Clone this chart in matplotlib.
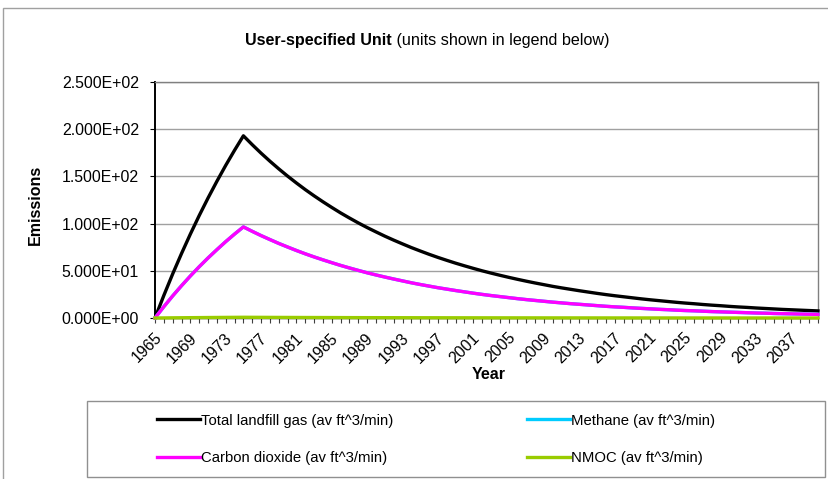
import numpy as np
import matplotlib
matplotlib.use('Agg')
import matplotlib.pyplot as plt
from matplotlib.patches import Rectangle
from matplotlib.ticker import FuncFormatter, MultipleLocator
from matplotlib.transforms import ScaledTranslation

plt.rcParams['font.family'] = ['Liberation Sans', 'DejaVu Sans']

# datos (1965 - 2040)
years = list(range(1965, 2041))

total_lfg = [0, 23.9, 46.7, 68.3, 88.9, 108.5, 127.1, 144.8, 161.7, 177.7, 193.0,
             183.6, 174.6, 166.1, 158.0, 150.3, 143.0, 136.0, 129.4, 123.1, 117.1,
             111.3, 105.9, 100.7, 95.8, 91.2, 86.7, 82.5, 78.5, 74.6, 71.0,
             67.5, 64.2, 61.1, 58.1, 55.3, 52.6, 50.0, 47.6, 45.3, 43.1,
             41.0, 39.0, 37.1, 35.3, 33.5, 31.9, 30.4, 28.9, 27.5, 26.1,
             24.8, 23.6, 22.5, 21.4, 20.3, 19.3, 18.4, 17.5, 16.6, 15.8,
             15.1, 14.3, 13.6, 13.0, 12.3, 11.7, 11.2, 10.6, 10.1, 9.6,
             9.1, 8.7, 8.3, 7.9, 7.5]

methane = [0, 12.0, 23.4, 34.2, 44.5, 54.3, 63.6, 72.4, 80.9, 88.9, 96.5,
           91.8, 87.3, 83.1, 79.0, 75.2, 71.5, 68.0, 64.7, 61.6, 58.6,
           55.7, 53.0, 50.4, 47.9, 45.6, 43.4, 41.3, 39.3, 37.3, 35.5,
           33.8, 32.1, 30.6, 29.1, 27.7, 26.3, 25.0, 23.8, 22.7, 21.6,
           20.5, 19.5, 18.6, 17.7, 16.8, 16.0, 15.2, 14.5, 13.8, 13.1,
           12.4, 11.8, 11.3, 10.7, 10.2, 9.7, 9.2, 8.8, 8.3, 7.9,
           7.6, 7.2, 6.8, 6.5, 6.2, 5.9, 5.6, 5.3, 5.1, 4.8,
           4.6, 4.4, 4.2, 4.0, 3.8]

carbon_dioxide = [0, 12.0, 23.4, 34.2, 44.5, 54.3, 63.6, 72.4, 80.9, 88.9, 96.5,
                  91.8, 87.3, 83.1, 79.0, 75.2, 71.5, 68.0, 64.7, 61.6, 58.6,
                  55.7, 53.0, 50.4, 47.9, 45.6, 43.4, 41.3, 39.3, 37.3, 35.5,
                  33.8, 32.1, 30.6, 29.1, 27.7, 26.3, 25.0, 23.8, 22.7, 21.6,
                  20.5, 19.5, 18.6, 17.7, 16.8, 16.0, 15.2, 14.5, 13.8, 13.1,
                  12.4, 11.8, 11.3, 10.7, 10.2, 9.7, 9.2, 8.8, 8.3, 7.9,
                  7.6, 7.2, 6.8, 6.5, 6.2, 5.9, 5.6, 5.3, 5.1, 4.8,
                  4.6, 4.4, 4.2, 4.0, 3.8]

nmoc = [0, 0.10, 0.19, 0.27, 0.36, 0.43, 0.51, 0.58, 0.65, 0.71, 0.77,
        0.73, 0.70, 0.66, 0.63, 0.60, 0.57, 0.54, 0.52, 0.49, 0.47,
        0.45, 0.42, 0.40, 0.38, 0.36, 0.35, 0.33, 0.31, 0.30, 0.28,
        0.27, 0.26, 0.24, 0.23, 0.22, 0.21, 0.20, 0.19, 0.18, 0.17,
        0.16, 0.16, 0.15, 0.14, 0.13, 0.13, 0.12, 0.12, 0.11, 0.10,
        0.10, 0.09, 0.09, 0.08, 0.08, 0.07, 0.07, 0.07, 0.06, 0.06,
        0.06, 0.05, 0.05, 0.05, 0.04, 0.04, 0.04, 0.04, 0.04, 0.04,
        0.04, 0.03, 0.03, 0.03, 0.03]

labels = ['Total landfill gas (av ft^3/min)', 'Methane (av ft^3/min)',
          'Carbon dioxide (av ft^3/min)', 'NMOC (av ft^3/min)']
year_ticks = list(range(1965, 2038, 4))

W, H = 829, 479
fig = plt.figure(figsize=(W / 100, H / 100), dpi=100)
ax = fig.add_axes([155 / W, 1 - 318 / H, (818 - 155) / W, (318 - 82) / H])

lw = 2.4
l_tot, = ax.plot(years, total_lfg, color='black', lw=lw, clip_on=False, zorder=3)
l_ch4, = ax.plot(years, methane, color='#00CCFF', lw=lw, clip_on=False, zorder=3)
l_co2, = ax.plot(years, carbon_dioxide, color='#FF00FF', lw=lw, clip_on=False, zorder=4)
l_nm, = ax.plot(years, nmoc, color='#99CC00', lw=lw, clip_on=False, zorder=5)

ax.set_xlim(1965, 2040)
ax.set_ylim(0, 250)
ax.yaxis.set_major_locator(MultipleLocator(50))
ax.yaxis.set_major_formatter(FuncFormatter(lambda v, p: '%.3E' % v))
ax.set_xticks(year_ticks)
ax.set_xticks(years, minor=True)
ax.set_xticklabels([str(y) for y in year_ticks], rotation=45, ha='right',
                   va='center', rotation_mode='anchor')
ax.tick_params(axis='x', which='both', length=3.5, width=0.8, color='#404040',
               labelsize=11.4, pad=9)
ax.tick_params(axis='y', length=3.6, width=0.8, labelsize=11.4, pad=8)
# corrimiento leve de las etiquetas del eje x hacia la derecha
for lab in ax.get_xticklabels():
    lab.set_transform(lab.get_transform() + ScaledTranslation(0.04, 0, fig.dpi_scale_trans))
ax.grid(axis='y', color='#a0a0a0', lw=1)
ax.set_axisbelow(True)
for s in ['top', 'right']:
    ax.spines[s].set_color('#808080')
    ax.spines[s].set_linewidth(1)
ax.spines['left'].set_linewidth(1.4)
ax.spines['bottom'].set_linewidth(1)

ax.set_ylabel('Emissions', fontsize=11.5, fontweight='bold')
ax.yaxis.set_label_coords(-0.169, 0.479)
ax.set_xlabel('Year', fontsize=11.5, fontweight='bold', va='center')
ax.xaxis.set_label_coords(0.504, -0.2415)

# titulo: parte en negrita y parte normal
t1 = fig.text(245 / W, 1 - 45 / H, 'User-specified Unit', fontsize=11.6,
              fontweight='bold', ha='left', va='baseline')
fig.canvas.draw()
bb = t1.get_window_extent()
fig.text(bb.x1 / W, 1 - 45 / H, ' (units shown in legend below)', fontsize=11.6,
         ha='left', va='baseline')

# marco exterior y caja de la leyenda
fig.patches.append(Rectangle((3 / W, -0.05), 1.05, 1 - 8 / H + 0.05,
                             transform=fig.transFigure, fill=False,
                             edgecolor='#a0a0a0', lw=1))
fig.patches.append(Rectangle((87 / W, 1 - 477 / H), (825 - 87) / W, (477 - 401) / H,
                             transform=fig.transFigure, fill=False,
                             edgecolor='#909090', lw=1))

fig.legend([l_tot, l_co2, l_ch4, l_nm], [labels[0], labels[2], labels[1], labels[3]],
           ncol=2, loc='center left', bbox_to_anchor=(157 / W, 1 - 439.5 / H),
           frameon=False, fontsize=10.7, handlelength=2.9, handletextpad=0.05,
           columnspacing=9.0, labelspacing=1.6, borderpad=0, borderaxespad=0)

fig.savefig('out.png', dpi=100)
